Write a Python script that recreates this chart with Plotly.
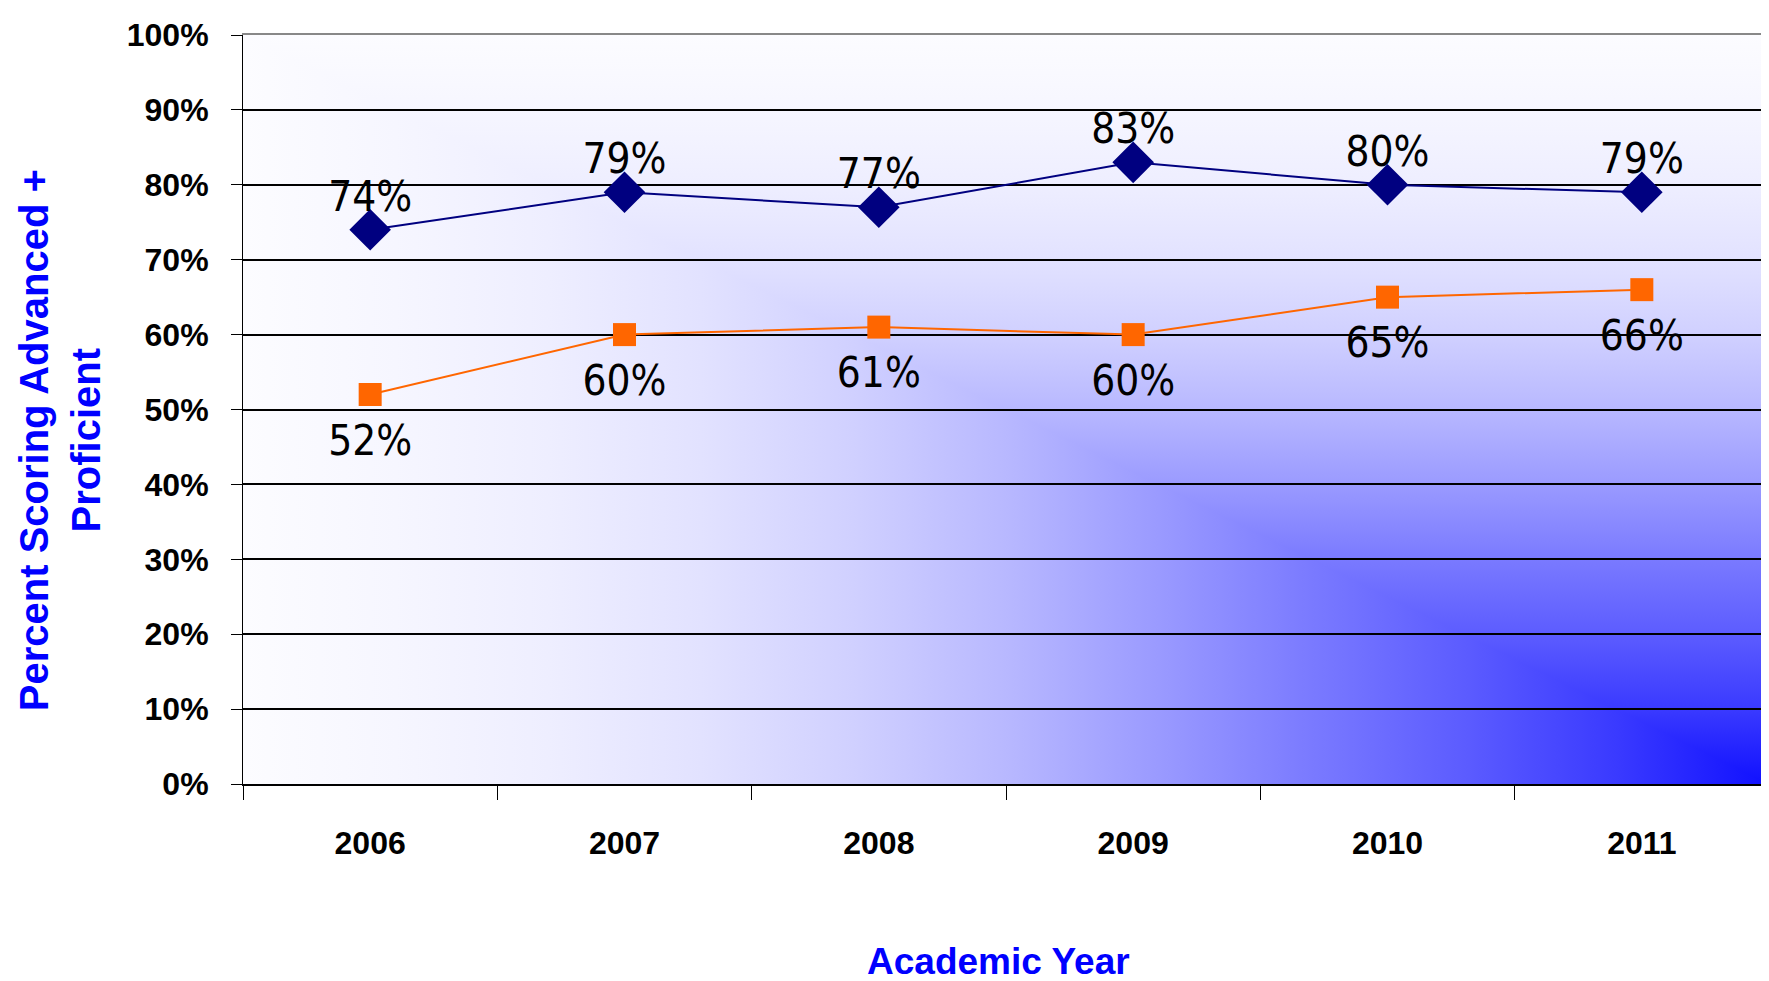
import base64
import plotly.graph_objects as go

years = ["2006", "2007", "2008", "2009", "2010", "2011"]
blue_vals = [74, 79, 77, 83, 80, 79]
orange_vals = [52, 60, 61, 60, 65, 66]
blue_labels = ["74%", "79%", "77%", "83%", "80%", "79%"]
orange_labels = ["52%", "60%", "61%", "60%", "65%", "66%"]
y_ticks = [0, 10, 20, 30, 40, 50, 60, 70, 80, 90, 100]
y_tick_text = [f"{v}%" for v in y_ticks]

COND = "DejaVu Sans Condensed, Liberation Sans Narrow, sans-serif"
SANS = "Liberation Sans, Arial, sans-serif"

# page body has an 8px margin -> figure is shifted; compensate size
W, H = 1761, 973

# background: rectangular ("from corner") gradient, darkest at bottom-right
stops = [
    (0.0, "#1010FF"), (0.1, "#3A3AFF"), (0.2, "#5C5CFF"), (0.3, "#7A7AFF"),
    (0.4, "#9A9AFF"), (0.5, "#B8B8FF"), (0.6, "#D0D0FF"), (0.7, "#E2E2FF"),
    (0.8, "#EEEEFF"), (0.9, "#F6F6FF"), (1.0, "#FCFCFF"),
]
stop_xml = "".join(f"<stop offset='{o}' stop-color='{c}'/>" for o, c in stops)
svg = (
    "<svg xmlns='http://www.w3.org/2000/svg' width='100' height='100' viewBox='0 0 100 100' "
    "preserveAspectRatio='none'><defs>"
    "<linearGradient id='v' gradientUnits='userSpaceOnUse' x1='0' y1='100' x2='0' y2='0'>"
    + stop_xml + "</linearGradient>"
    "<linearGradient id='h' gradientUnits='userSpaceOnUse' x1='100' y1='0' x2='0' y2='0'>"
    + stop_xml + "</linearGradient></defs>"
    "<rect x='0' y='0' width='100' height='100' fill='url(#v)'/>"
    "<polygon points='0,0 0,100 100,100' fill='url(#h)'/></svg>"
)
bg_src = "data:image/svg+xml;base64," + base64.b64encode(svg.encode()).decode()

fig = go.Figure()
fig.add_trace(go.Scatter(
    x=years, y=blue_vals, mode="lines+markers",
    line=dict(color="#000080", width=2),
    marker=dict(symbol="diamond", size=32, color="#000080"),
    showlegend=False,
))
fig.add_trace(go.Scatter(
    x=years, y=orange_vals, mode="lines+markers",
    line=dict(color="#FF6600", width=2),
    marker=dict(symbol="square", size=23, color="#FF6600"),
    showlegend=False,
))
# data labels (invisible markers set the label offset)
fig.add_trace(go.Scatter(
    x=years, y=blue_vals, mode="markers+text",
    marker=dict(size=12, color="rgba(0,0,0,0)"),
    text=blue_labels, textposition="top center",
    textfont=dict(family=COND, size=42, color="black"),
    cliponaxis=False, showlegend=False, hoverinfo="skip",
))
fig.add_trace(go.Scatter(
    x=years, y=orange_vals, mode="markers+text",
    marker=dict(size=44, color="rgba(0,0,0,0)"),
    text=orange_labels, textposition="bottom center",
    textfont=dict(family=COND, size=42, color="black"),
    cliponaxis=False, showlegend=False, hoverinfo="skip",
))

fig.update_layout(
    width=W, height=H,
    margin=dict(l=235, r=0, t=27, b=197),
    paper_bgcolor="white",
    plot_bgcolor="rgba(0,0,0,0)",
    images=[dict(source=bg_src, xref="paper", yref="paper", x=0, y=1,
                 sizex=1, sizey=1, sizing="stretch", layer="below",
                 xanchor="left", yanchor="top")],
    xaxis=dict(
        type="category", range=[-0.5, 5.5],
        showline=True, linecolor="black", linewidth=2,
        ticks="outside", tickson="boundaries", ticklen=14, tickcolor="black", tickwidth=1,
        tickfont=dict(family=SANS, size=32, color="black", weight="bold"),
        ticklabelstandoff=30,
        showgrid=False,
    ),
    xaxis2=dict(
        overlaying="x", side="top", matches="x", showline=True, linecolor="#888888",
        linewidth=2, showticklabels=False, ticks="", showgrid=False,
    ),
    yaxis=dict(
        range=[0, 100], tickmode="array", tickvals=y_ticks, ticktext=y_tick_text,
        showline=True, linecolor="black", linewidth=1,
        ticks="outside", ticklen=11, tickcolor="black", tickwidth=1,
        tickfont=dict(family=SANS, size=32, color="black", weight="bold"),
        ticklabelstandoff=16,
        showgrid=True, gridcolor="black", gridwidth=2,
        zeroline=False,
    ),
    annotations=[
        dict(text="Percent Scoring Advanced +<br>Proficient", xref="paper", yref="paper",
             x=0, y=0.459, xshift=-183, textangle=-90, showarrow=False,
             xanchor="center", yanchor="middle",
             font=dict(family=SANS, size=40, color="#0000FF", weight="bold")),
        dict(text="Academic Year", xref="paper", yref="paper",
             x=0.495, y=0, yshift=-177, showarrow=False,
             xanchor="center", yanchor="middle",
             font=dict(family=SANS, size=37, color="#0000FF", weight="bold")),
    ],
)
# invisible trace to activate the top (gray) frame axis
fig.add_trace(go.Scatter(x=years, y=[None] * len(years), xaxis="x2", showlegend=False,
                         hoverinfo="skip"))

fig.write_html("out.html")
